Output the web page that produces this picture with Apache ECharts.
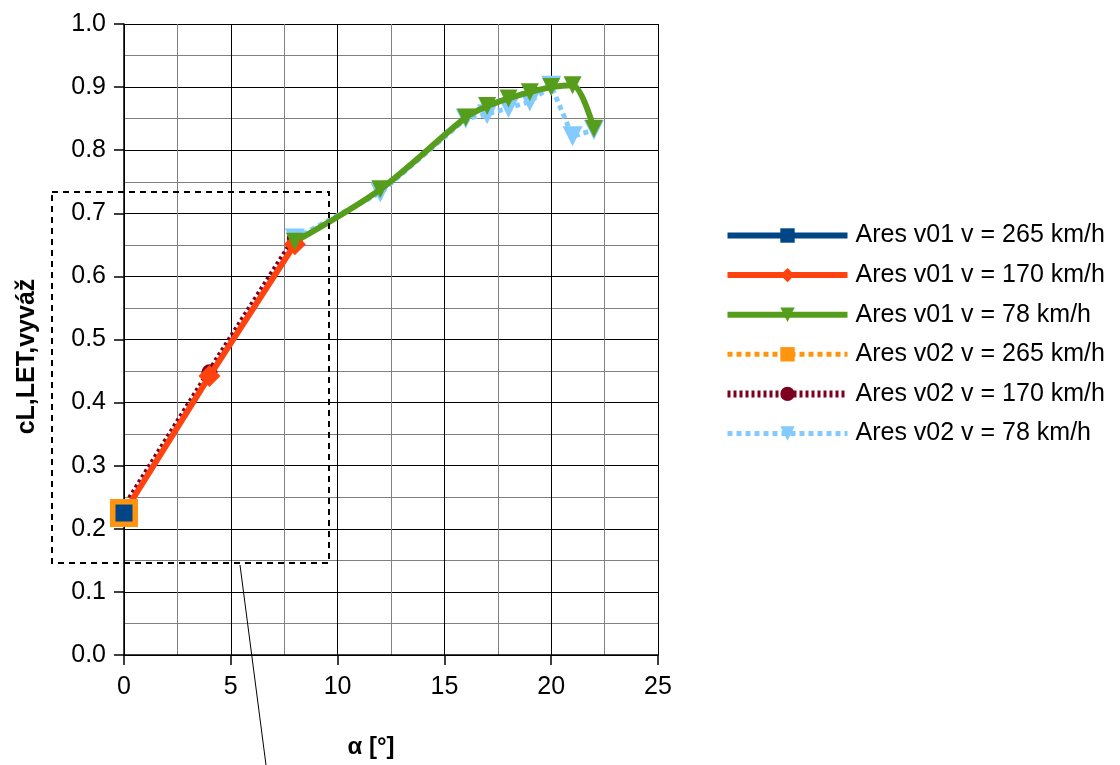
<!DOCTYPE html>
<html>
<head>
<meta charset="utf-8">
<script src="https://cdn.jsdelivr.net/npm/echarts@6/dist/echarts.min.js"></script>
<style>html,body{margin:0;padding:0;background:#fff}#c{width:1120px;height:765px}</style>
</head>
<body>
<div id="c"></div>
<script>
// ---- data ----
const seriesNames = [
  'Ares v01 v = 265 km/h',
  'Ares v01 v = 170 km/h',
  'Ares v01 v = 78 km/h',
  'Ares v02 v = 265 km/h',
  'Ares v02 v = 170 km/h',
  'Ares v02 v = 78 km/h'
];
const alpha265 = [0];
const alpha170 = [0, 4, 8];
const alpha78 = [8, 12, 16, 17, 18, 19, 20, 21, 22];
const v01_265 = [0.225];
const v01_170 = [0.225, 0.442, 0.651];
const v01_78 = [0.655, 0.738, 0.852, 0.870, 0.882, 0.892, 0.900, 0.903, 0.834];
const v02_265 = [0.225];
const v02_170 = [0.232, 0.448, 0.660];
const v02_78 = [0.66, 0.733, 0.850, 0.857, 0.867, 0.877, 0.902, 0.822, 0.832];
const xTicks = [0, 5, 10, 15, 20, 25];
const yTicks = [0.0, 0.1, 0.2, 0.3, 0.4, 0.5, 0.6, 0.7, 0.8, 0.9, 1.0];

const pairs = (xs, ys) => xs.map((x, i) => [x, ys[i]]);
const FONT = '"Liberation Sans", Arial, sans-serif';

const styles = {
  [seriesNames[0]]: {color: '#004586', width: 6, type: 'solid'},
  [seriesNames[1]]: {color: '#ff420e', width: 6, type: 'solid'},
  [seriesNames[2]]: {color: '#579d1c', width: 6, type: 'solid'},
  [seriesNames[3]]: {color: '#ff950e', width: 5, type: [5, 4]},
  [seriesNames[4]]: {color: '#7e0021', width: 7, type: [3, 3]},
  [seriesNames[5]]: {color: '#83caff', width: 5, type: [5, 4]}
};

const chart = echarts.init(document.getElementById('c'), null, {renderer: 'canvas'});
chart.setOption({
  backgroundColor: '#ffffff',
  animation: false,
  textStyle: {fontFamily: FONT},
  grid: {left: 124, right: 462, top: 24, bottom: 110, containLabel: false},
  xAxis: {
    type: 'value', min: xTicks[0], max: xTicks[xTicks.length - 1], interval: 5,
    name: 'α [°]', nameLocation: 'middle', nameGap: 80,
    nameTextStyle: {fontSize: 24, fontWeight: 'bold', color: '#000', fontFamily: FONT, padding: [0, 40, 0, 0]},
    axisLine: {show: true, onZero: false, lineStyle: {color: '#000', width: 1.5}},
    axisTick: {show: true, length: 10, lineStyle: {color: '#000', width: 1.5}},
    axisLabel: {fontSize: 25, color: '#000', margin: 20, fontFamily: FONT},
    splitLine: {show: true, lineStyle: {color: '#000', width: 1}},
    minorTick: {show: false, splitNumber: 2},
    minorSplitLine: {show: true, lineStyle: {color: '#808080', width: 1}}
  },
  yAxis: {
    type: 'value', min: yTicks[0], max: yTicks[yTicks.length - 1], interval: 0.1,
    name: 'cL,LET,vyváž', nameLocation: 'middle', nameGap: 84, nameRotate: 90,
    nameTextStyle: {fontSize: 25, fontWeight: 'bold', color: '#000', fontFamily: FONT, padding: [0, 34, 0, 0]},
    axisLine: {show: true, onZero: false, lineStyle: {color: '#000', width: 1.5}},
    axisTick: {show: true, length: 10, lineStyle: {color: '#000', width: 1.5}},
    axisLabel: {fontSize: 25, color: '#000', margin: 18, fontFamily: FONT,
      formatter: v => v.toFixed(1)},
    splitLine: {show: true, lineStyle: {color: '#000', width: 1}},
    minorTick: {show: false, splitNumber: 2},
    minorSplitLine: {show: true, lineStyle: {color: '#808080', width: 1}}
  },
  legend: {
    orient: 'vertical', left: 724, top: 223, padding: 0,
    itemWidth: 120, itemHeight: 18, itemGap: 14.6,
    textStyle: {fontSize: 25, color: '#000', fontFamily: FONT, padding: [0, 0, 0, 3]},
    data: seriesNames.map(n => ({name: n, lineStyle: {width: styles[n].width, type: styles[n].type, color: styles[n].color}}))
  },
  series: [
    {name: seriesNames[3], type: 'line', z: 7, data: pairs(alpha265, v02_265),
     symbol: 'rect', symbolSize: 28, itemStyle: {color: '#ff950e'},
     lineStyle: styles[seriesNames[3]]},
    {name: seriesNames[4], type: 'line', z: 3, data: pairs(alpha170, v02_170),
     symbol: 'circle', symbolSize: 16, itemStyle: {color: '#7e0021'},
     lineStyle: styles[seriesNames[4]]},
    {name: seriesNames[5], type: 'line', z: 3, data: pairs(alpha78, v02_78),
     symbol: 'triangle', symbolRotate: 180, symbolSize: 20, itemStyle: {color: '#83caff'},
     lineStyle: styles[seriesNames[5]]},
    {name: seriesNames[0], type: 'line', z: 8, data: pairs(alpha265, v01_265),
     symbol: 'rect', symbolSize: 17, itemStyle: {color: '#004586'},
     lineStyle: styles[seriesNames[0]]},
    {name: seriesNames[1], type: 'line', z: 5, data: pairs(alpha170, v01_170),
     symbol: 'diamond', symbolSize: 22, itemStyle: {color: '#ff420e'},
     lineStyle: styles[seriesNames[1]]},
    {name: seriesNames[2], type: 'line', z: 5, data: pairs(alpha78, v01_78), smooth: 0.3,
     symbol: 'triangle', symbolRotate: 180, symbolSize: 18, itemStyle: {color: '#579d1c'},
     lineStyle: styles[seriesNames[2]]}
  ],
  graphic: [
    {type: 'rect', z: 10, silent: true,
     shape: {x: 52, y: 192, width: 277, height: 371},
     style: {fill: null, stroke: '#000', lineWidth: 2, lineDash: [6, 5]}},
    {type: 'line', z: 10, silent: true,
     shape: {x1: 240, y1: 565, x2: 266, y2: 765},
     style: {stroke: '#000', lineWidth: 1}}
  ]
});
</script>
</body>
</html>
